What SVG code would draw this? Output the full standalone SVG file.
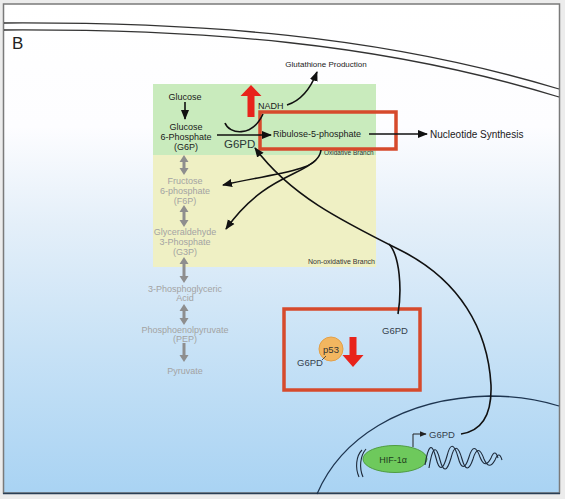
<svg xmlns="http://www.w3.org/2000/svg" width="565" height="499" viewBox="0 0 565 499">
<defs>
<linearGradient id="bg" x1="0" y1="0" x2="0" y2="1">
<stop offset="0" stop-color="#ffffff"/>
<stop offset="0.25" stop-color="#fdfdff"/>
<stop offset="0.45" stop-color="#e4eff9"/>
<stop offset="0.7" stop-color="#c8e2f6"/>
<stop offset="1" stop-color="#a9d3f3"/>
</linearGradient>
<marker id="ah" markerUnits="userSpaceOnUse" markerWidth="10" markerHeight="10" viewBox="0 0 10 10" refX="9" refY="5" orient="auto">
<path d="M0,1 L10,5 L0,9 z" fill="#111"/>
</marker>
<marker id="ahs" markerUnits="userSpaceOnUse" markerWidth="7" markerHeight="7" viewBox="0 0 10 10" refX="9" refY="5" orient="auto">
<path d="M0,1 L10,5 L0,9 z" fill="#222"/>
</marker>
</defs>
<style>
text{font-family:"Liberation Sans",Arial,sans-serif;}
.blk{font-size:9px;fill:#1a1a1a;text-anchor:middle;}
.gry{font-size:9px;fill:#a3a3a3;text-anchor:middle;}
.lbl{font-size:9.5px;fill:#34404c;}
.con{fill:none;stroke:#111;stroke-width:1.6;}
.redbox{fill:none;stroke:#d64a2c;stroke-width:3.5;}
.garr{fill:#8e8e8e;}
.rarr{fill:#e8231b;}
</style>
<rect x="0" y="0" width="565" height="499" fill="#ececec"/>
<rect x="3.5" y="4" width="556" height="489" fill="url(#bg)" stroke="#7a7a7a" stroke-width="1.5"/>
<line x1="3" y1="493.5" x2="560" y2="493.5" stroke="#2a3f55" stroke-width="1.5"/>
<g id="membrane" fill="none" stroke="#333" stroke-width="1.3">
<path d="M4,23 C200,22 380,35 559,89"/>
<path d="M4,30 C200,29 380,42 559,97"/>
</g>
<text x="12" y="49" font-size="17" fill="#222">B</text>
<g id="branches">
<rect x="153" y="84" width="223" height="71" fill="#c9ebbd"/>
<rect x="153" y="155" width="223" height="112" fill="#eff0c4"/>
<text x="324" y="155" font-size="6.5" fill="#333">Oxidative Branch</text>
<text x="308" y="264" font-size="7" fill="#333">Non-oxidative Branch</text>
</g>
<g id="nucleus">
<path d="M317,494 C340,440 400,398 490,396 C520,396 540,400 559,406" fill="none" stroke="#1e3550" stroke-width="1.3"/>
</g>
<g id="glucose"><text class="blk" x="185" y="100">Glucose</text></g>
<g id="g6p">
<text class="blk" x="186" y="130">Glucose</text>
<text class="blk" x="186" y="140">6-Phosphate</text>
<text class="blk" x="186" y="150">(G6P)</text>
</g>
<g id="g6pd-enzyme"><text x="224" y="148" font-size="11.5" fill="#2a3535">G6PD</text></g>
<g id="nadh"><text x="258" y="109" font-size="9" fill="#1a1a1a">NADH</text></g>
<g id="glutathione"><text x="326" y="67" font-size="8" fill="#1a1a1a" text-anchor="middle">Glutathione Production</text></g>
<g id="ribulose">
<text x="273" y="137" font-size="9" fill="#1a1a1a">Ribulose-5-phosphate</text>
<rect class="redbox" x="260" y="112" width="136" height="37"/>
</g>
<g id="nucleotide"><text x="430" y="138" font-size="10" fill="#1a1a1a">Nucleotide Synthesis</text></g>
<g id="f6p">
<text class="gry" x="185" y="184">Fructose</text>
<text class="gry" x="185" y="194">6-phosphate</text>
<text class="gry" x="185" y="204">(F6P)</text>
</g>
<g id="g3p">
<text class="gry" x="185" y="235">Glyceraldehyde</text>
<text class="gry" x="185" y="245">3-Phosphate</text>
<text class="gry" x="185" y="255">(G3P)</text>
</g>
<g id="pga">
<text class="gry" x="185" y="292">3-Phosphoglyceric</text>
<text class="gry" x="185" y="301">Acid</text>
</g>
<g id="pep">
<text class="gry" x="185" y="333">Phosphoenolpyruvate</text>
<text class="gry" x="185" y="342">(PEP)</text>
</g>
<g id="pyruvate"><text class="gry" x="185" y="374">Pyruvate</text></g>
<g id="p53-box">
<rect class="redbox" x="284" y="309" width="136" height="81"/>
<text class="lbl" x="382" y="334">G6PD</text>
<circle cx="331" cy="349" r="12" fill="#f2b660" stroke="#e3a048" stroke-width="1"/>
<text x="331" y="352.5" font-size="9.5" fill="#333" text-anchor="middle">p53</text>
<text class="lbl" x="297" y="366">G6PD</text>
<line x1="322" y1="360" x2="326" y2="356" stroke="#333" stroke-width="0.8"/>
<path class="rarr" d="M353,367 L363.5,355 H356.5 V337 H349.5 V355 H342.5 Z"/>
</g>
<g id="hif">
<path d="M362,450 C356,456 355,468 359,477 M366,449 C360,456 359,468 363,477" fill="none" stroke="#1e2a3a" stroke-width="1.1"/>
<ellipse cx="395" cy="459" rx="32" ry="13.5" fill="#6ec95c" stroke="#4f9c42" stroke-width="1"/>
<text x="393" y="462.5" font-size="9" fill="#1d3d1d" text-anchor="middle">HIF-1α</text>
<path d="M425,465 Q430,434 436,458 Q441,478 447,456 Q452,436 458,457 Q463,476 469,457 Q474,440 480,457 Q485,470 491,458 Q495,448 498,458" fill="none" stroke="#1e2a3a" stroke-width="1.1"/>
<path d="M429,468 Q434,436 440,460 Q445,479 451,458 Q456,438 462,459 Q467,477 473,459 Q478,442 484,459 Q489,471 495,460 Q499,450 502,460" fill="none" stroke="#1e2a3a" stroke-width="1.1"/>
<path d="M413,447 V434 H426" fill="none" stroke="#222" stroke-width="1" marker-end="url(#ahs)"/>
<text class="lbl" x="429" y="437.5">G6PD</text>
</g>
<g id="connectors">
<path class="con" d="M185,102 V119" marker-end="url(#ah)"/>
<path class="con" d="M217,135 H271" marker-end="url(#ah)"/>
<path class="con" d="M369,134 H427" marker-end="url(#ah)"/>
<path class="con" d="M287,105 C300,101 310,90 317,72" marker-end="url(#ah)"/>
<path class="con" d="M225,123 C229,134 252,138 263,114"/>
<path class="con" d="M321,150 C318,172 280,172 223,185" marker-end="url(#ah)"/>
<path class="con" d="M316,160 C300,176 262,178 226,229" marker-end="url(#ah)"/>
<path class="con" d="M461,434 C482,431 492,414 491,385 C488,330 460,280 400,250 C340,220 290,195 255,148" marker-end="url(#ah)"/>
<path class="con" d="M389,244 C400,256 402,290 398,314"/>
<path class="garr" d="M184,155 L188.5,162 H185.5 V168 H188.5 L184,175 L179.5,168 H182.5 V162 H179.5 Z"/>
<path class="garr" d="M184,205 L188.5,212 H185.5 V220 H188.5 L184,227 L179.5,220 H182.5 V212 H179.5 Z"/>
<path class="garr" d="M184,257 L188.5,264 H185.5 V276 H188.5 L184,283 L179.5,276 H182.5 V264 H179.5 Z"/>
<path class="garr" d="M184,304 L188.5,311 H185.5 V318 H188.5 L184,325 L179.5,318 H182.5 V311 H179.5 Z"/>
<path class="garr" d="M182.5,343 H185.5 V355 H188.5 L184,362 L179.5,355 H182.5 Z"/>
<path class="rarr" d="M251,85 L261.5,96 H254.5 V117 H247.5 V96 H240.5 Z"/>
</g>
</svg>
